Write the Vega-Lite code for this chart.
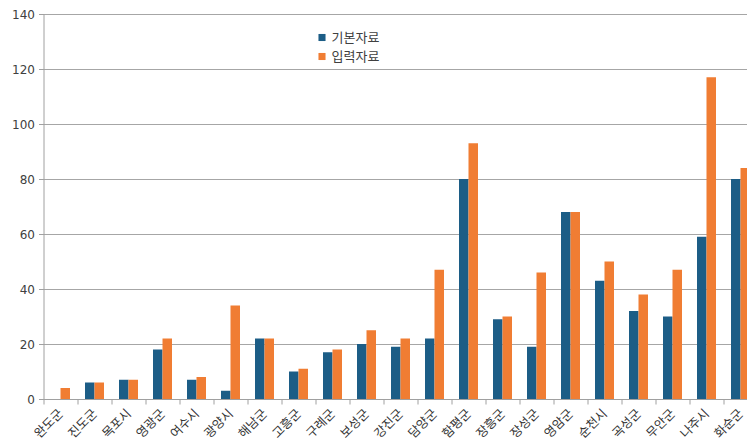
{
  "$schema": "https://vega.github.io/schema/vega-lite/v6.json",
  "width": 714,
  "height": 385,
  "autosize": {"type": "none"},
  "padding": {"left": 43.5, "top": 14, "right": 0, "bottom": 48},
  "background": "white",
  "config": {
    "font": "Noto Sans CJK KR",
    "view": {"stroke": null}
  },
  "data": {
    "values": [
      {"region": "완도군", "series": "기본자료", "value": 0},
      {"region": "완도군", "series": "입력자료", "value": 4},
      {"region": "진도군", "series": "기본자료", "value": 6},
      {"region": "진도군", "series": "입력자료", "value": 6},
      {"region": "목포시", "series": "기본자료", "value": 7},
      {"region": "목포시", "series": "입력자료", "value": 7},
      {"region": "영광군", "series": "기본자료", "value": 18},
      {"region": "영광군", "series": "입력자료", "value": 22},
      {"region": "여수시", "series": "기본자료", "value": 7},
      {"region": "여수시", "series": "입력자료", "value": 8},
      {"region": "광양시", "series": "기본자료", "value": 3},
      {"region": "광양시", "series": "입력자료", "value": 34},
      {"region": "해남군", "series": "기본자료", "value": 22},
      {"region": "해남군", "series": "입력자료", "value": 22},
      {"region": "고흥군", "series": "기본자료", "value": 10},
      {"region": "고흥군", "series": "입력자료", "value": 11},
      {"region": "구례군", "series": "기본자료", "value": 17},
      {"region": "구례군", "series": "입력자료", "value": 18},
      {"region": "보성군", "series": "기본자료", "value": 20},
      {"region": "보성군", "series": "입력자료", "value": 25},
      {"region": "강진군", "series": "기본자료", "value": 19},
      {"region": "강진군", "series": "입력자료", "value": 22},
      {"region": "담양군", "series": "기본자료", "value": 22},
      {"region": "담양군", "series": "입력자료", "value": 47},
      {"region": "함평군", "series": "기본자료", "value": 80},
      {"region": "함평군", "series": "입력자료", "value": 93},
      {"region": "장흥군", "series": "기본자료", "value": 29},
      {"region": "장흥군", "series": "입력자료", "value": 30},
      {"region": "장성군", "series": "기본자료", "value": 19},
      {"region": "장성군", "series": "입력자료", "value": 46},
      {"region": "영암군", "series": "기본자료", "value": 68},
      {"region": "영암군", "series": "입력자료", "value": 68},
      {"region": "순천시", "series": "기본자료", "value": 43},
      {"region": "순천시", "series": "입력자료", "value": 50},
      {"region": "곡성군", "series": "기본자료", "value": 32},
      {"region": "곡성군", "series": "입력자료", "value": 38},
      {"region": "무안군", "series": "기본자료", "value": 30},
      {"region": "무안군", "series": "입력자료", "value": 47},
      {"region": "나주시", "series": "기본자료", "value": 59},
      {"region": "나주시", "series": "입력자료", "value": 117},
      {"region": "화순군", "series": "기본자료", "value": 80},
      {"region": "화순군", "series": "입력자료", "value": 84}
    ]
  },
  "mark": {"type": "bar"},
  "encoding": {
    "x": {
      "field": "region",
      "type": "nominal",
      "sort": null,
      "scale": {"paddingInner": 0, "paddingOuter": 0},
      "axis": {
        "title": null,
        "labelAngle": 315,
        "labelAlign": "right",
        "labelBaseline": "middle",
        "labelFontSize": 12.5,
        "labelColor": "#333333",
        "labelPadding": 7,
        "tickBand": "extent",
        "tickSize": 5,
        "tickColor": "#a0a0a0",
        "domainColor": "#a0a0a0",
        "grid": false
      }
    },
    "xOffset": {
      "field": "series",
      "type": "nominal",
      "sort": ["기본자료", "입력자료"],
      "scale": {"paddingInner": 0, "paddingOuter": 0.79}
    },
    "y": {
      "field": "value",
      "type": "quantitative",
      "scale": {"domain": [0, 140], "nice": false},
      "axis": {
        "title": null,
        "values": [0, 20, 40, 60, 80, 100, 120, 140],
        "labelFontSize": 12,
        "labelColor": "#404040",
        "labelFont": "DejaVu Sans",
        "labelPadding": 4,
        "tickSize": 5,
        "tickColor": "#a0a0a0",
        "domainColor": "#a0a0a0",
        "gridColor": "#a6a6a6",
        "grid": true
      }
    },
    "color": {
      "field": "series",
      "type": "nominal",
      "sort": ["기본자료", "입력자료"],
      "scale": {"domain": ["기본자료", "입력자료"], "range": ["#1c5d86", "#f07d33"]},
      "legend": {
        "title": null,
        "orient": "none",
        "legendX": 272,
        "legendY": 17,
        "symbolType": "square",
        "symbolSize": 50,
        "symbolStrokeWidth": 0,
        "labelFontSize": 13,
        "labelColor": "#404040",
        "labelOffset": 3,
        "rowPadding": 5
      }
    }
  }
}
